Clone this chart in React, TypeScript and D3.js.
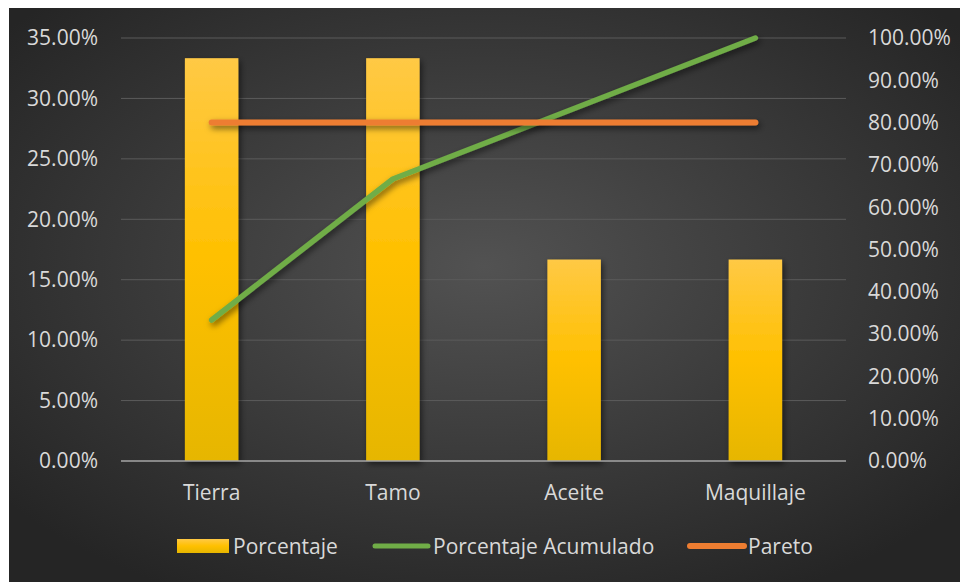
import React from "react";
import * as d3 from "d3";

const categories = ["Tierra", "Tamo", "Aceite", "Maquillaje"];
const porcentaje = [0.3333, 0.3333, 0.1667, 0.1667];
const acumulado = [0.3333, 0.6667, 0.8333, 1.0];
const pareto = [0.8, 0.8, 0.8, 0.8];
const leftTicks = [0, 0.05, 0.1, 0.15, 0.2, 0.25, 0.3, 0.35];
const rightTicks = [0, 0.1, 0.2, 0.3, 0.4, 0.5, 0.6, 0.7, 0.8, 0.9, 1.0];
const legendItems = ["Porcentaje", "Porcentaje Acumulado", "Pareto"];

const W = 960;
const H = 582;
const plotL = 121;
const plotR = 846;
const plotT = 38;
const plotB = 461;
const font = "'Open Sans', sans-serif";
const fs = 21;
const textColor = "#d9d9d9";

export default function App() {
  const x = d3.scaleBand<string>().domain(categories).range([plotL, plotR]).paddingInner(0).paddingOuter(0);
  const yL = d3.scaleLinear().domain([0, 0.35]).range([plotB, plotT]);
  const yR = d3.scaleLinear().domain([0, 1]).range([plotB, plotT]);
  const barW = x.bandwidth() * 0.295;
  const cx = (c: string) => (x(c) as number) + x.bandwidth() / 2;
  const fmt = (v: number) => (v * 100).toFixed(2) + "%";

  const line = d3
    .line<number>()
    .x((_, i) => cx(categories[i]))
    .y((d) => yR(d));

  return (
    <svg width={W} height={H} style={{ position: "absolute", left: 0, top: 0 }}>
      <defs>
        <radialGradient id="bg" cx="50%" cy="45%" r="65%">
          <stop offset="0%" stopColor="#525252" />
          <stop offset="100%" stopColor="#252525" />
        </radialGradient>
        <linearGradient id="bar" x1="0" y1="0" x2="0" y2="1">
          <stop offset="0%" stopColor="#FFC945" />
          <stop offset="50%" stopColor="#FFC000" />
          <stop offset="100%" stopColor="#E6B600" />
        </linearGradient>
        <filter id="sh" filterUnits="userSpaceOnUse" x={0} y={0} width={W} height={H}>
          <feDropShadow dx="2" dy="3" stdDeviation="3" floodColor="#000" floodOpacity="0.55" />
        </filter>
      </defs>
      <rect x={0} y={0} width={W} height={H} fill="#ffffff" />
      <rect x={9} y={8} width={W - 9} height={H - 8} fill="url(#bg)" />

      {leftTicks.map((t) =>
        t === 0 ? null : (
          <line key={"g" + t} x1={plotL} x2={plotR} y1={yL(t)} y2={yL(t)} stroke="#5b5b5b" strokeWidth={1} />
        )
      )}

      {categories.map((c, i) => (
        <rect
          key={c}
          x={cx(c) - barW / 2}
          y={yL(porcentaje[i])}
          width={barW}
          height={plotB - yL(porcentaje[i])}
          fill="url(#bar)"
          filter="url(#sh)"
        />
      ))}

      <line x1={plotL} x2={plotR} y1={plotB} y2={plotB} stroke="#a6a6a6" strokeWidth={1.5} />

      <path d={line(acumulado) || ""} fill="none" stroke="#70AD47" strokeWidth={5.5} strokeLinecap="round" strokeLinejoin="round" filter="url(#sh)" />
      <path d={line(pareto) || ""} fill="none" stroke="#ED7D31" strokeWidth={6} strokeLinecap="round" strokeLinejoin="round" filter="url(#sh)" />

      {leftTicks.map((t) => (
        <text key={"l" + t} x={98} y={yL(t)} dy="0.35em" textAnchor="end" fontFamily={font} fontSize={fs} fill={textColor}>
          {fmt(t)}
        </text>
      ))}
      {rightTicks.map((t) => (
        <text key={"r" + t} x={868} y={yR(t)} dy="0.35em" textAnchor="start" fontFamily={font} fontSize={fs} fill={textColor}>
          {fmt(t)}
        </text>
      ))}
      {categories.map((c) => (
        <text key={"c" + c} x={cx(c)} y={493} dy="0.35em" textAnchor="middle" fontFamily={font} fontSize={fs} fill={textColor}>
          {c}
        </text>
      ))}

      {/* legend */}
      <g>
        <rect x={177} y={539} width={52} height={14} fill="url(#bar)" />
        <text x={233} y={547} dy="0.35em" fontFamily={font} fontSize={fs} fill={textColor}>
          {legendItems[0]}
        </text>
        <line x1={375} x2={428} y1={546} y2={546} stroke="#70AD47" strokeWidth={5} strokeLinecap="round" />
        <text x={433} y={547} dy="0.35em" fontFamily={font} fontSize={fs} fill={textColor}>
          {legendItems[1]}
        </text>
        <line x1={690} x2={744} y1={546} y2={546} stroke="#ED7D31" strokeWidth={6} strokeLinecap="round" />
        <text x={748} y={547} dy="0.35em" fontFamily={font} fontSize={fs} fill={textColor}>
          {legendItems[2]}
        </text>
      </g>
    </svg>
  );
}
